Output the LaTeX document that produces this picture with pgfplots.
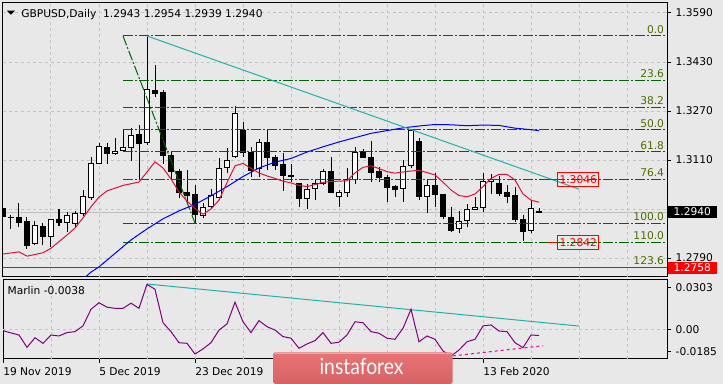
\documentclass[border=0pt]{standalone}
\usepackage{pgfplots}
\pgfplotsset{compat=1.18}
\usepackage{pgfplotstable}
\usepackage{graphicx}
\usepackage{fontspec}
\setmainfont{DejaVu Sans}
\newfontfamily\logofont{Lato}
\definecolor{bg}{RGB}{232,232,232}
\definecolor{gridc}{RGB}{196,196,196}
\definecolor{fibg}{RGB}{0,100,0}
\definecolor{fibt}{RGB}{75,110,0}
\definecolor{trendc}{RGB}{32,178,170}
\definecolor{maR}{RGB}{220,20,60}
\definecolor{purp}{RGB}{128,0,128}
\definecolor{logotop}{RGB}{234,116,118}
\definecolor{logobot}{RGB}{212,98,100}
\definecolor{bidc}{RGB}{190,190,190}
\newcommand\fsz{\fontsize{8}{9.6}\selectfont}
\newcommand\PX[2]{({(#1)*0.75pt},{(384-(#2))*0.75pt})}

\pgfplotstableread{
i o h l c
0 1.2952 1.2971 1.2905 1.2925
1 1.2922 1.2930 1.2884 1.2921
2 1.2923 1.2971 1.2890 1.2907
3 1.2908 1.2925 1.2820 1.2830
4 1.2836 1.2911 1.2831 1.2897
5 1.2894 1.2904 1.2831 1.2861
6 1.2861 1.2918 1.2827 1.2916
7 1.2916 1.2949 1.2895 1.2905
8 1.2907 1.2939 1.2875 1.2929
9 1.2903 1.2944 1.2890 1.2935
10 1.2936 1.3012 1.2927 1.2992
11 1.2988 1.3120 1.2979 1.3098
12 1.3099 1.3166 1.3098 1.3155
13 1.3152 1.3166 1.3098 1.3131
14 1.3132 1.3182 1.3127 1.3138
15 1.3142 1.3212 1.3135 1.3151
16 1.3150 1.3214 1.3106 1.3191
17 1.3192 1.3224 1.3045 1.3165
18 1.3168 1.3515 1.3160 1.3339
19 1.3336 1.3420 1.3317 1.3328
20 1.3332 1.3340 1.3097 1.3124
21 1.3126 1.3136 1.3045 1.3072
22 1.3074 1.3081 1.2986 1.3004
23 1.3005 1.3077 1.2974 1.2993
24 1.2998 1.3029 1.2904 1.2933
25 1.2928 1.2969 1.2920 1.2956
26 1.2959 1.3014 1.2952 1.2993
27 1.2988 1.3116 1.2979 1.3081
28 1.3086 1.3148 1.3067 1.3108
29 1.3121 1.3286 1.3117 1.3263
30 1.3206 1.3235 1.3120 1.3135
31 1.3135 1.3153 1.3054 1.3075
32 1.3081 1.3178 1.3054 1.3166
33 1.3167 1.3210 1.3077 1.3117
34 1.3117 1.3126 1.3077 1.3091
35 1.3094 1.3132 1.3010 1.3061
36 1.3061 1.3097 1.3039 1.3056
37 1.3032 1.3035 1.2956 1.2984
38 1.2984 1.3031 1.2950 1.3015
39 1.3018 1.3045 1.2979 1.3034
40 1.3034 1.3080 1.3028 1.3074
41 1.3074 1.3121 1.3001 1.3003
42 1.2992 1.3012 1.2958 1.3005
43 1.3005 1.3083 1.2990 1.3045
44 1.3045 1.3151 1.3032 1.3135
45 1.3139 1.3145 1.3116 1.3117
46 1.3119 1.3173 1.3037 1.3070
47 1.3072 1.3088 1.3037 1.3054
48 1.3054 1.3061 1.2972 1.3021
49 1.3025 1.3028 1.2988 1.3014
50 1.3018 1.3110 1.2974 1.3090
51 1.3091 1.3210 1.3083 1.3205
52 1.3172 1.3181 1.2979 1.2990
53 1.2992 1.3045 1.2938 1.3027
54 1.3027 1.3067 1.2956 1.2997
55 1.2996 1.2999 1.2918 1.2925
56 1.2923 1.2956 1.2874 1.2879
57 1.2887 1.2944 1.2871 1.2909
58 1.2911 1.2966 1.2890 1.2949
59 1.2947 1.2988 1.2947 1.2956
60 1.2954 1.3069 1.2941 1.3039
61 1.3041 1.3063 1.2998 1.3045
62 1.3032 1.3058 1.2993 1.3001
63 1.3003 1.3028 1.2969 1.2990
64 1.2993 1.3023 1.2909 1.2916
65 1.2917 1.2930 1.2847 1.2876
66 1.2879 1.2979 1.2873 1.2952
67 1.2943 1.2954 1.2939 1.2940
}\ohlc

\pgfplotstableread{
i ma
0 1.2803
2 1.2810
3 1.2796
5 1.2807
6 1.2822
8 1.2865
9 1.2888
10 1.2921
11 1.2957
12 1.2989
13 1.3009
15 1.3027
17 1.3038
18 1.3071
19 1.3104
20 1.3084
21 1.3048
22 1.3006
23 1.2976
24 1.2952
25 1.2933
26 1.2950
27 1.2979
28 1.3036
29 1.3091
30 1.3099
31 1.3083
32 1.3068
33 1.3058
34 1.3050
35 1.3041
36 1.3035
37 1.3027
38 1.3023
39 1.3030
40 1.3037
41 1.3040
42 1.3041
43 1.3042
44 1.3068
45 1.3086
46 1.3091
47 1.3082
48 1.3072
49 1.3067
50 1.3071
51 1.3074
52 1.3076
53 1.3069
54 1.3061
55 1.3038
56 1.3012
57 1.2994
58 1.2990
59 1.2999
60 1.3023
61 1.3050
62 1.3063
63 1.3063
64 1.3045
65 1.2999
66 1.2979
67 1.2972
}\redma

\pgfplotstableread{
i ma
10 1.2721
11 1.2744
12 1.2761
14 1.2805
16 1.2849
18 1.2885
20 1.2918
22 1.2944
24 1.2965
26 1.2993
28 1.3023
30 1.3056
32 1.3084
34 1.3103
36 1.3115
38 1.3136
40 1.3153
42 1.3169
44 1.3183
46 1.3197
48 1.3206
50 1.3215
52 1.3221
54 1.3226
56 1.3225
58 1.3222
60 1.3224
62 1.3223
64 1.3214
66 1.3209
67 1.3206
}\bluema

\pgfplotstableread{
i v
0 -0.0008
1 -0.0022
2 -0.0035
3 -0.0112
4 -0.0052
5 -0.0087
6 -0.0035
7 -0.0041
8 -0.0020
9 -0.0014
10 0.0022
11 0.0126
12 0.0167
13 0.0139
14 0.0132
15 0.0132
16 0.0164
17 0.0132
18 0.0282
19 0.0251
20 0.0042
21 -0.0014
22 -0.0083
23 -0.0087
24 -0.0154
25 -0.0122
26 -0.0083
27 -0.0004
28 0.0034
29 0.0170
30 0.0048
31 -0.0020
32 0.0055
33 0.0017
34 -0.0004
35 -0.0045
36 -0.0055
37 -0.0118
38 -0.0091
39 -0.0070
40 -0.0020
41 -0.0087
42 -0.0080
43 -0.0035
44 0.0048
45 0.0042
46 -0.0014
47 -0.0024
48 -0.0055
49 -0.0062
50 0.0007
51 0.0126
52 -0.0077
53 -0.0041
54 -0.0062
55 -0.0135
56 -0.0166
57 -0.0129
58 -0.0077
59 -0.0062
60 0.0022
61 0.0028
62 -0.0010
63 -0.0014
64 -0.0083
65 -0.0114
66 -0.0035
67 -0.0038
}\marlin

\tikzset{
  fibdash/.style={fibg, line width=0.75pt, dash pattern=on 7.5pt off 1.5pt on 1.5pt off 1.5pt},
  fiblab/.style={anchor=base east, inner sep=0pt, text=fibt, font=\fsz, yshift=2pt},
  pricebox/.style={draw=red, text=red, line width=0.75pt, font=\fsz, inner xsep=1.2pt, inner ysep=2.4pt, text height=5.8pt, text depth=0pt},
  axbox/.style={anchor=west, xshift=0.4pt, text=white, font=\fsz, minimum width=36.75pt, inner ysep=1.7pt, text height=5.8pt, text depth=0pt},
  datelab/.style={anchor=base west, inner sep=0pt, font=\fsz, yshift=-12.5pt},
}

\begin{document}
\begin{tikzpicture}
\path[use as bounding box, fill=bg] (0pt,0pt) rectangle (542.25pt,288pt);

% ---------------- main price panel ----------------
\begin{axis}[
  name=main, at={(2.25pt,80.25pt)}, anchor=south west,
  scale only axis, width=498pt, height=205.5pt,
  xmin=0, xmax=83, ymin=1.27280, ymax=1.36227,
  axis background/.style={fill=bg},
  axis line style={line width=0.75pt},
  clip mode=individual,
  tick align=outside, major tick length=3pt,
  tick style={black, line width=0.75pt},
  ytick pos=right, yticklabel pos=right,
  scaled y ticks=false,
  ytick={1.2790,1.2950,1.3110,1.3270,1.3430,1.3590},
  yticklabels={1.2790,,1.3110,1.3270,1.3430,1.3590},
  yticklabel style={font=\fsz, anchor=west},
  ymajorgrids,
  xtick=\empty,
  extra x ticks={6,12,...,78}, extra x tick labels={},
  extra x tick style={grid=major, major tick length=0pt},
  grid style={gridc, line width=0.75pt, dash pattern=on 2.25pt off 2.25pt},
]
\addplot[bidc, line width=0.75pt] coordinates {(0,1.2940) (83,1.2940)};

\pgfplotsforeachungrouped \ci in {0,...,67}{%
  \pgfplotstablegetelem{\ci}{o}\of\ohlc \let\vo\pgfplotsretval
  \pgfplotstablegetelem{\ci}{h}\of\ohlc \let\vh\pgfplotsretval
  \pgfplotstablegetelem{\ci}{l}\of\ohlc \let\vl\pgfplotsretval
  \pgfplotstablegetelem{\ci}{c}\of\ohlc \let\vc\pgfplotsretval
  \ifdim\vc pt<\vo pt \def\fc{black}\else\def\fc{white}\fi
  \pgfmathsetmacro\xa{\ci-0.34}%
  \pgfmathsetmacro\xb{\ci+0.34}%
  \edef\temp{%
    \noexpand\addplot[black, line width=0.75pt] coordinates {(\ci,\vl) (\ci,\vh)};%
    \noexpand\addplot[draw=black, fill=\fc, line width=0.75pt, line cap=rect] coordinates {(\xa,\vo) (\xb,\vo) (\xb,\vc) (\xa,\vc) (\xa,\vo)};%
  }%
  \temp
}

% Fibonacci retracement
\addplot[fibdash] coordinates {(15,1.3515) (24,1.2904)};
\addplot[fibdash] coordinates {(15,1.3515) (83,1.3515)};
\addplot[fibdash] coordinates {(15,1.3371) (83,1.3371)};
\addplot[fibdash] coordinates {(15,1.3282) (83,1.3282)};
\addplot[fibdash] coordinates {(15,1.3209) (83,1.3209)};
\addplot[fibdash] coordinates {(15,1.3137) (83,1.3137)};
\addplot[fibdash] coordinates {(15,1.3047) (83,1.3047)};
\addplot[fibdash] coordinates {(15,1.2904) (83,1.2904)};
\addplot[fibdash] coordinates {(15,1.2842) (83,1.2842)};
\addplot[fibdash] coordinates {(15,1.2760) (83,1.2760)};
\addplot[red, line width=0.75pt] coordinates {(0,1.2758) (83,1.2758)};

% moving averages and trend line
\addplot[blue, line width=0.75pt] table[x=i, y=ma] {\bluema};
\addplot[maR, line width=0.75pt] table[x=i, y=ma] {\redma};
\addplot[trendc, line width=0.75pt] coordinates {(18,1.3515) (72,1.3015)};

% price label segments
\addplot[red, line width=0.75pt] coordinates {(68.1,1.3046) (69.4,1.3046)};
\addplot[red, line width=0.75pt] coordinates {(68.1,1.2842) (69.4,1.2842)};
\node[pricebox] at (axis cs:71.9,1.3045) {1.3046};
\node[pricebox] at (axis cs:71.9,1.2841) {1.2842};

\node[fiblab] at (axis cs:82.66,1.3515) {0.0};
\node[fiblab] at (axis cs:82.66,1.3371) {23.6};
\node[fiblab] at (axis cs:82.66,1.3282) {38.2};
\node[fiblab] at (axis cs:82.66,1.3209) {50.0};
\node[fiblab] at (axis cs:82.66,1.3137) {61.8};
\node[fiblab] at (axis cs:82.66,1.3047) {76.4};
\node[fiblab] at (axis cs:82.66,1.2904) {100.0};
\node[fiblab] at (axis cs:82.66,1.2842) {110.0};
\node[fiblab] at (axis cs:82.66,1.2760) {123.6};

\node[axbox, fill=black] at (axis cs:83,1.2940) {1.2940};
\node[axbox, fill=red] at (axis cs:83,1.2757) {1.2758};
\end{axis}

% ---------------- indicator panel ----------------
\begin{axis}[
  name=ind, at={(2.25pt,18.75pt)}, anchor=south west,
  scale only axis, width=498pt, height=59.25pt,
  xmin=0, xmax=83, ymin=-0.0185, ymax=0.0309,
  axis background/.style={fill=bg},
  axis line style={line width=0.75pt},
  clip mode=individual,
  tick align=outside, major tick length=3pt,
  tick style={black, line width=0.75pt},
  ytick pos=right, yticklabel pos=right,
  scaled y ticks=false,
  ytick={-0.0141,0,0.0259},
  yticklabels={-0.0185,0.00,0.0303},
  yticklabel style={font=\fsz, anchor=west},
  xtick={0,12,...,60}, xticklabels={}, xtick pos=left,
  extra x ticks={6,12,...,78}, extra x tick labels={},
  extra x tick style={grid=major, major tick length=0pt},
  grid style={gridc, line width=0.75pt, dash pattern=on 2.25pt off 2.25pt},
]
\addplot[gridc, line width=0.75pt, dash pattern=on 2.25pt off 2.25pt] coordinates {(0,0) (83,0)};
\addplot[trendc, line width=0.75pt] coordinates {(18,0.0284) (72,0.0021)};
\addplot[magenta, line width=0.75pt, dash pattern=on 2.25pt off 2.25pt] coordinates {(55.5,-0.0170) (67.5,-0.0102)};
\addplot[purp, line width=0.75pt] table[x=i, y=v] {\marlin};

\node[datelab] at (axis cs:0,-0.0185) {19 Nov 2019};
\node[datelab] at (axis cs:12,-0.0185) {5 Dec 2019};
\node[datelab] at (axis cs:24,-0.0185) {23 Dec 2019};
\node[datelab] at (axis cs:48,-0.0185) {28 Jan 2020};
\node[datelab] at (axis cs:60,-0.0185) {13 Feb 2020};
\end{axis}

% ---------------- texts and watermark ----------------
\fill[black] \PX{6.7}{10.7} -- \PX{15}{10.7} -- \PX{10.85}{14.7} -- cycle;
\node[anchor=base west, inner sep=0pt, font=\fsz] at \PX{21}{17.3} {GBPUSD,Daily\hspace{5pt}1.2943 1.2954 1.2939 1.2940};
\node[anchor=base west, inner sep=0pt, font=\fsz] at \PX{7.3}{294.7} {Marlin -0.0038};

\shade[top color=logotop, bottom color=logobot, rounded corners=2pt] \PX{273}{352.3} rectangle \PX{452.7}{384};
\draw[white, opacity=0.35, line width=0.6pt] \PX{275}{353.2} -- \PX{451}{353.2};
\node[anchor=base west, inner sep=0pt, text=white] at \PX{319.3}{374.3} {\resizebox{63pt}{12.2pt}{\logofont instaforex}};
\end{tikzpicture}
\end{document}
